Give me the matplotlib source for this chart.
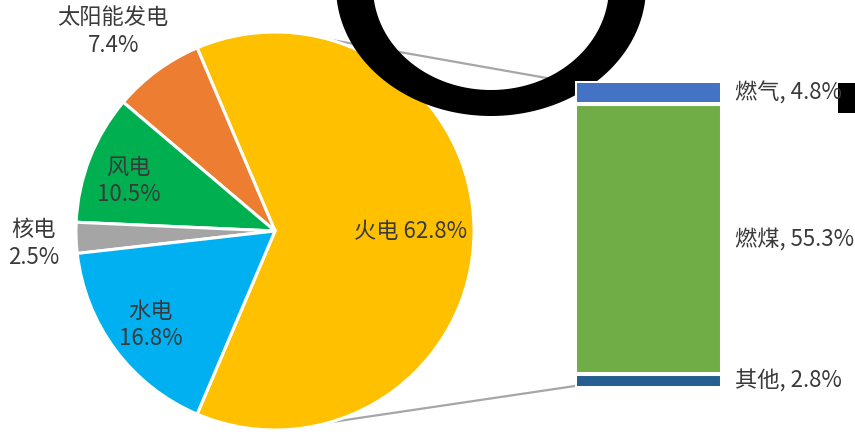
import matplotlib
matplotlib.use("Agg")
import matplotlib.pyplot as plt
import numpy as np
from matplotlib.path import Path
from matplotlib.patches import PathPatch, Rectangle

plt.rcParams['font.family'] = ['Noto Sans CJK SC', 'DejaVu Sans']

# 发电结构
pie_labels = ['火电', '太阳能发电', '风电', '核电', '水电']
pie_values = [62.8, 7.4, 10.5, 2.5, 16.8]
pie_colors = ['#FFC000', '#ED7D31', '#00B050', '#A5A5A5', '#00B0F0']

# 火电细分 (从下到上)
bar_labels = ['其他', '燃煤', '燃气']
bar_values = [2.8, 55.3, 4.8]
bar_colors = ['#255E91', '#70AD47', '#4472C4']

txt_color = '#3a3a3a'
fs = 16


def main():
    fig = plt.figure(figsize=(8.55, 4.36), dpi=100)
    ax = fig.add_axes([0, 0, 1, 1])
    ax.set_xlim(0, 855)
    ax.set_ylim(0, 436)
    ax.axis('off')

    # 饼图 (像素坐标)
    cx, cy, r = 275, 205, 199
    start = -pie_values[0] * 3.6 / 2
    wedges, _ = ax.pie(pie_values, colors=pie_colors, startangle=start,
                       center=(cx, cy), radius=r, counterclock=True,
                       wedgeprops=dict(edgecolor='white', linewidth=2.2))
    ax.set_xlim(0, 855)
    ax.set_ylim(0, 436)
    ax.set_aspect('equal')

    # 标签位置 (半径, 角度)
    label_pos = [(136, 0), (257, 129), (155, 161), (242, 183), (156, 217)]
    for lab, val, (rr, deg) in zip(pie_labels, pie_values, label_pos):
        x = cx + rr * np.cos(np.radians(deg))
        y = cy + rr * np.sin(np.radians(deg))
        if lab == '火电':
            s = f'{lab} {val}%'
        else:
            s = f'{lab}\n{val}%'
        ax.text(x, y, s, ha='center', va='center', fontsize=fs,
                color=txt_color, linespacing=1.25)

    # 柱状图
    bx0, by0, bw, bh = 575, 48, 147, 307
    bax = fig.add_axes([bx0 / 855, by0 / 436, bw / 855, bh / 436])
    total = sum(bar_values)
    bottom = 0
    for lab, val, col in zip(bar_labels, bar_values, bar_colors):
        bax.bar(0, val, bottom=bottom, width=1, color=col,
                edgecolor='white', linewidth=2.9)
        bax.annotate(f'{lab}, {val}%', xy=(0.5, bottom + val / 2),
                     xytext=(9, 0), textcoords='offset points',
                     ha='left', va='center', fontsize=fs,
                     color=txt_color, annotation_clip=False)
        bottom += val
    bax.set_xlim(-0.5, 0.5)
    bax.set_ylim(0, total)
    bax.axis('off')

    # 连接线
    a = np.radians(74)
    ax.plot([cx + r * np.cos(a), bx0], [cy + r * np.sin(a), 436 - 83],
            color='#A6A6A6', lw=1.6, zorder=0.5)
    ax.plot([cx + r * np.cos(a), bx0], [cy - r * np.sin(a), 436 - 386],
            color='#A6A6A6', lw=1.6, zorder=0.5)

    # 图上的黑色遮挡
    t = np.linspace(0, 2 * np.pi, 200)
    ox, oy = 491 + 155 * np.cos(t), 449 + 129 * np.sin(t)
    ix, iy = 491 + 118 * np.cos(t[::-1]), 449 + 103 * np.sin(t[::-1])
    verts = np.concatenate([np.column_stack([ox, oy]), np.column_stack([ix, iy])])
    codes = ([Path.MOVETO] + [Path.LINETO] * 198 + [Path.CLOSEPOLY]) * 2
    ring = PathPatch(Path(verts, codes), facecolor='black', edgecolor='none',
                     zorder=10, clip_on=False)
    ax.add_patch(ring)
    ax.add_patch(Rectangle((838, 323), 17, 30, facecolor='black',
                           edgecolor='none', zorder=10))

    fig.savefig('out.png', dpi=100)


if __name__ == '__main__':
    main()
